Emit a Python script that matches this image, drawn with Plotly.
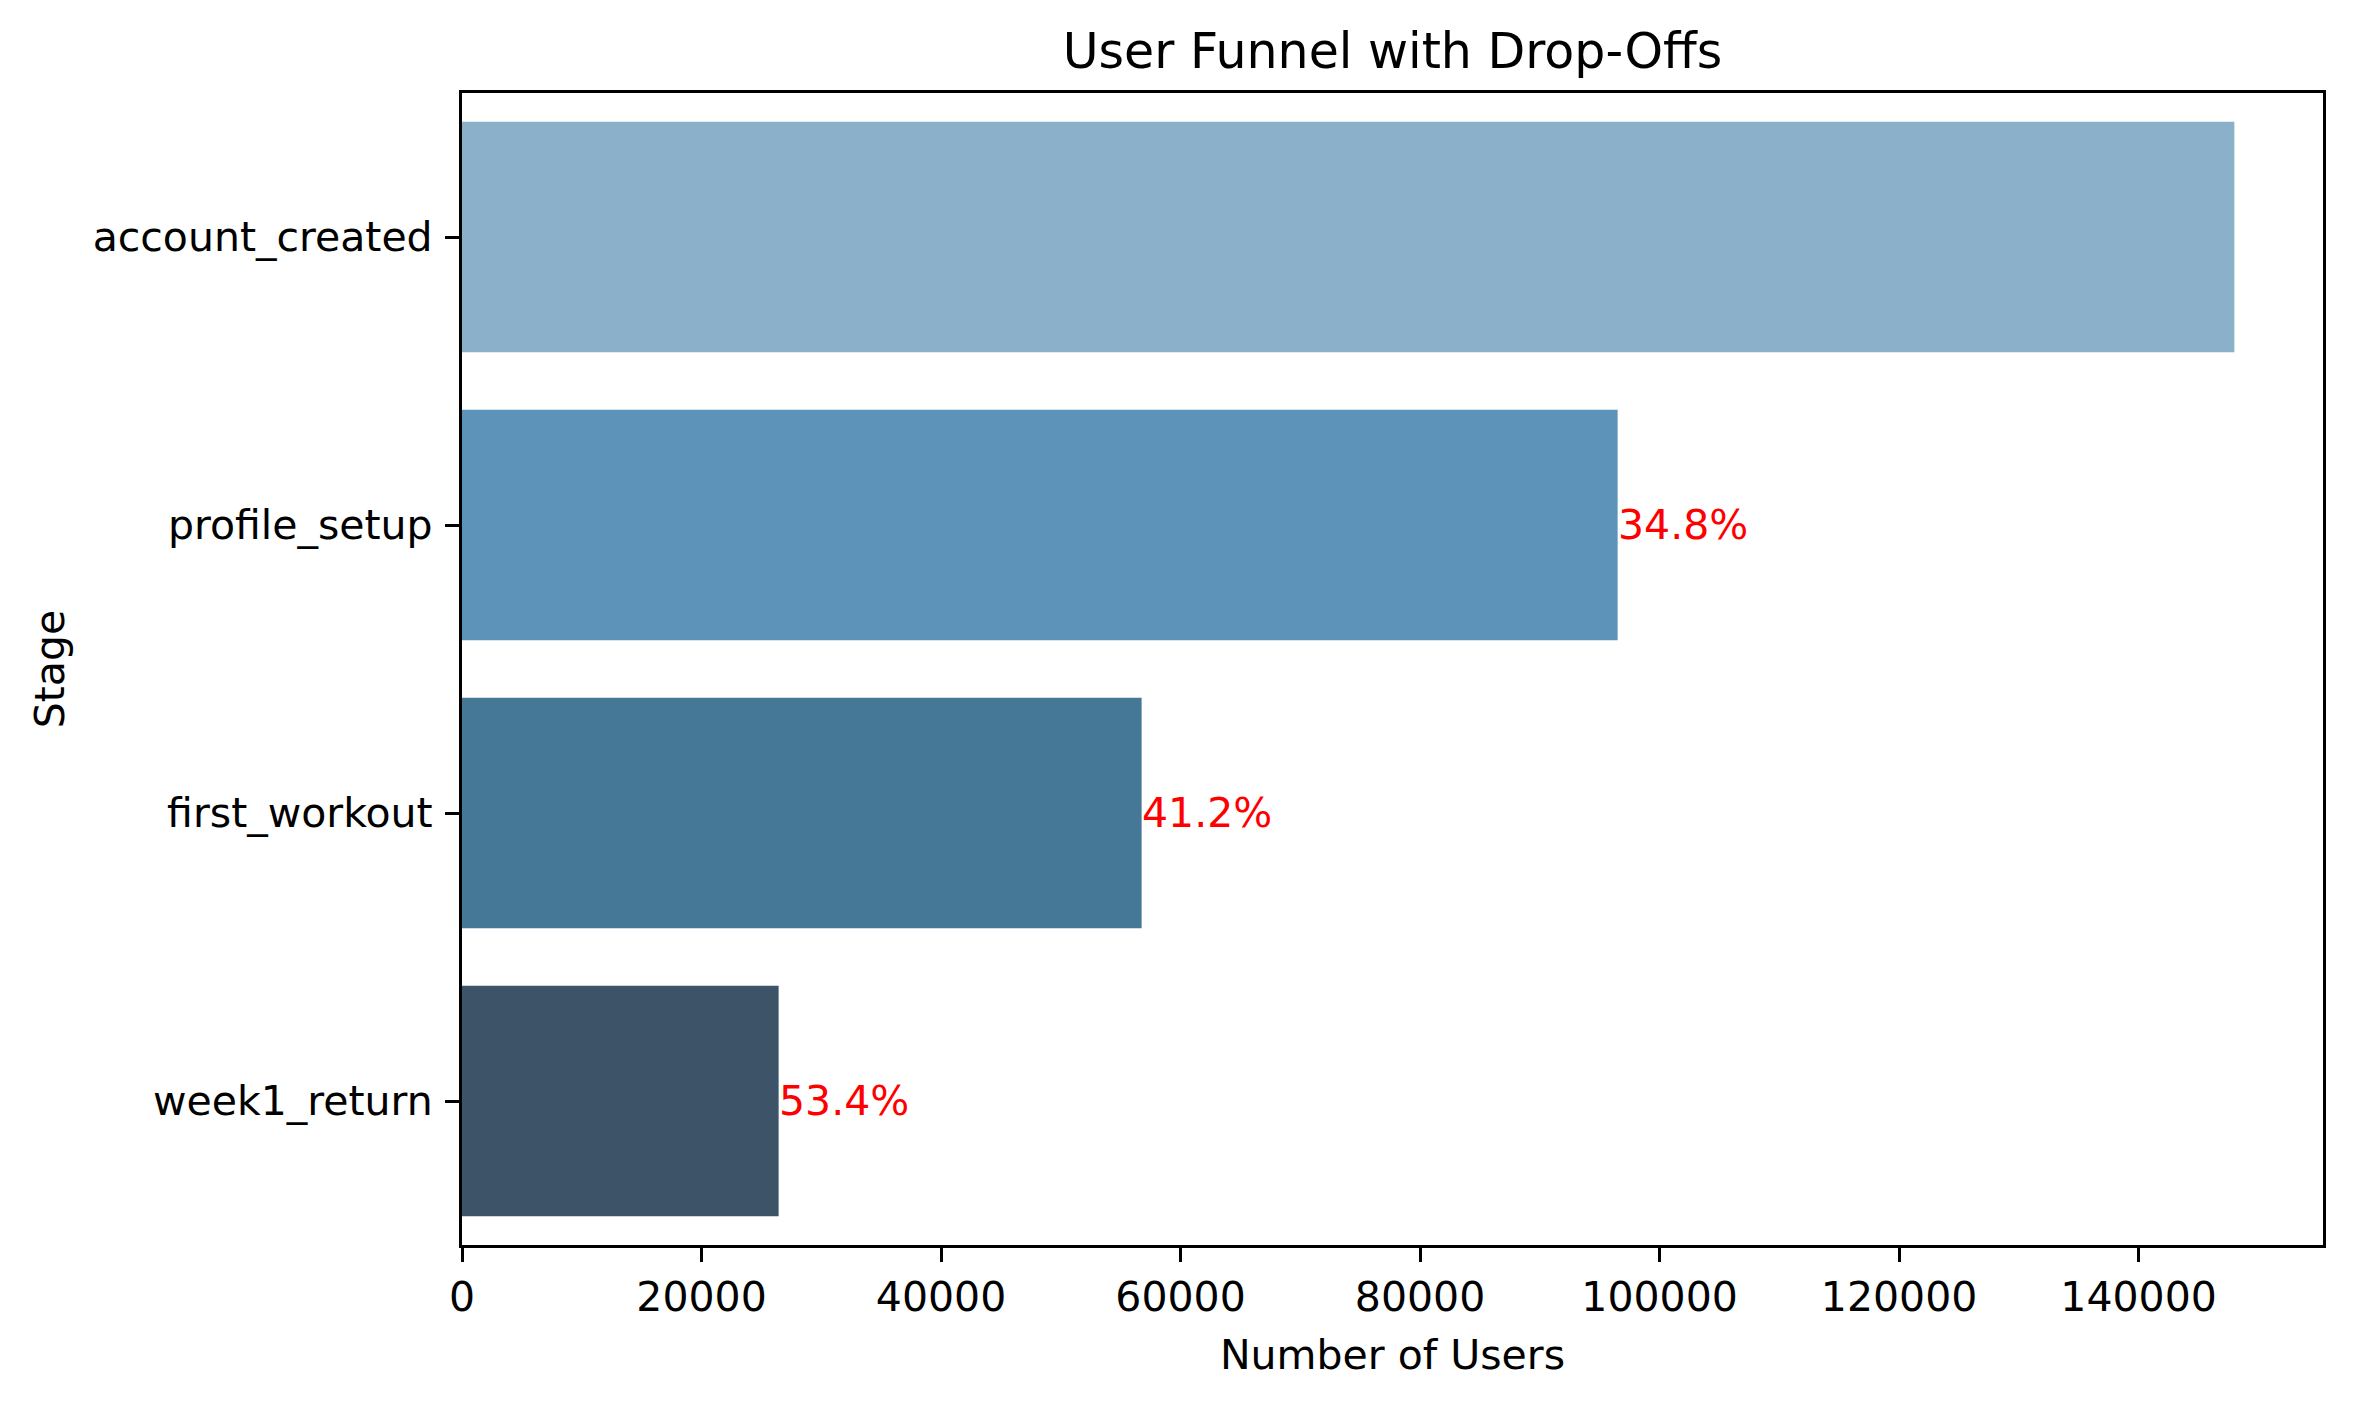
import plotly.graph_objects as go

stages = ["account_created", "profile_setup", "first_workout", "week1_return"]
users = [148000, 96500, 56750, 26440]
colors = ["#8AB0CA", "#5D93B8", "#457796", "#3D5468"]
x_ticks = [0, 20000, 40000, 60000, 80000, 100000, 120000, 140000]

drops = [None] + [(1 - users[i] / users[i - 1]) * 100 for i in range(1, len(users))]

FONT = "DejaVu Sans"
FS = 41

fig = go.Figure()
fig.add_trace(go.Bar(
    x=users, y=stages, orientation="h",
    marker=dict(color=colors, line=dict(width=0)),
    width=0.8, showlegend=False,
))

annotations = []
for s, u, d in zip(stages, users, drops):
    if d is None:
        continue
    annotations.append(dict(
        x=u, y=s, xref="x", yref="y", text=f"{d:.1f}%",
        showarrow=False, xanchor="left", yanchor="middle",
        font=dict(family=FONT, size=FS, color="red"), xshift=-2,
    ))

fig.update_layout(
    width=2353, height=1407,
    margin=dict(l=462, r=30, t=93, b=162),
    paper_bgcolor="white", plot_bgcolor="white",
    font=dict(family=FONT, size=FS, color="black"),
    title=dict(text="User Funnel with Drop-Offs", x=0.5, xref="paper", xanchor="center",
               y=1, yref="paper", yanchor="bottom", pad=dict(b=25),
               font=dict(family=FONT, size=49, color="black")),
    annotations=annotations,
    bargap=0.2,
)
fig.update_xaxes(
    range=[0, max(users) * 1.05], tickvals=x_ticks, ticktext=[str(v) for v in x_ticks],
    showgrid=False, zeroline=False, showline=True, linecolor="black", linewidth=3.3,
    mirror=True, ticks="outside", ticklen=14, tickwidth=3.3, tickcolor="black",
    title=dict(text="Number of Users", font=dict(family=FONT, size=FS), standoff=20),
    tickfont=dict(family=FONT, size=FS),
)
fig.update_yaxes(
    type="category", categoryorder="array", categoryarray=stages,
    range=[3.5, -0.5],
    showgrid=False, zeroline=False, showline=True, linecolor="black", linewidth=3.3,
    mirror=True, ticks="outside", ticklen=14, tickwidth=3.3, tickcolor="black",
    ticklabelstandoff=4,
    title=dict(text="Stage", font=dict(family=FONT, size=FS), standoff=16),
    tickfont=dict(family=FONT, size=FS),
)

fig.write_html("out.html")
